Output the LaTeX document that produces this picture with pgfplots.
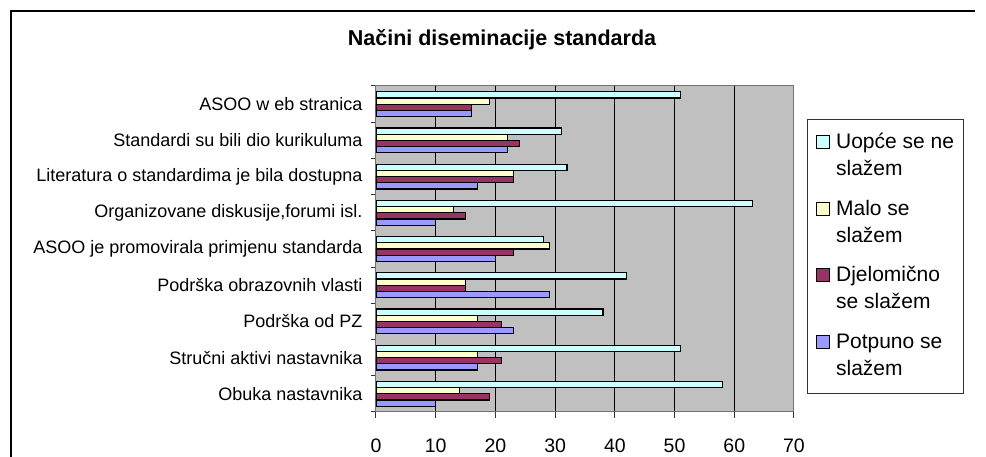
\documentclass[border=0pt]{standalone}
\usepackage{fontspec}
\setmainfont{Liberation Sans}
\usepackage{pgfplots}
\pgfplotsset{compat=1.18}
\definecolor{cUo}{HTML}{CCFFFF}
\definecolor{cMa}{HTML}{FFFFCC}
\definecolor{cDj}{HTML}{993366}
\definecolor{cPo}{HTML}{9999FF}
\definecolor{plotbg}{HTML}{C0C0C0}
\pgfplotsset{sqleg/.style={legend image code/.code={\draw[##1,line width=0.9pt] (0pt,0pt) rectangle (13pt,13pt);}}}
\begin{document}
\begin{tikzpicture}
\path[use as bounding box] (0pt,0pt) rectangle (986pt,457pt);
\draw[line width=1.6pt] (10.8pt,-20pt) -- (10.8pt,446.2pt) -- (975pt,446.2pt);
\node[anchor=base, font=\fontsize{21.5}{25}\selectfont\bfseries] at (502pt,411.3pt) {Načini diseminacije standarda};
\begin{axis}[
  at={(376pt,45pt)}, anchor=south west,
  scale only axis, width=418pt, height=326pt,
  xbar=0pt, bar width=6.2pt,
  xmin=0, xmax=70, ymin=-0.5, ymax=8.5,
  axis background/.style={fill=plotbg},
  axis line style={draw=black!55, line width=1pt},
  xtick={0,10,...,70},
  ytick={0,...,8},
  yticklabels={Obuka nastavnika, Stručni aktivi nastavnika, Podrška od PZ, Podrška obrazovnih vlasti, ASOO je promovirala primjenu standarda, {Organizovane diskusije,forumi isl.}, Literatura o standardima je bila dostupna, Standardi su bili dio kurikuluma, ASOO w eb stranica},
  minor ytick={-0.5,0.5,...,8.5},
  major y tick style={draw=none},
  minor y tick style={draw=black!80, line width=1pt},
  major x tick style={draw=black!80, line width=1pt},
  major tick length=6pt, minor tick length=5pt,
  tick align=outside, tick pos=left,
  xmajorgrids, major x grid style={draw=black, line width=1pt},
  yticklabel style={font=\fontsize{18}{22}\selectfont, xshift=-4pt},
  xticklabel style={font=\fontsize{19.5}{23}\selectfont, yshift=-17pt},
  /pgf/number format/assume math mode=true,
  every axis plot/.append style={draw=black, line width=1.2pt},
  reverse legend,
  legend style={at={(1.0304,0.8988)}, anchor=north west,
    draw=black!80, line width=1pt, fill=white,
    inner xsep=9pt, inner ysep=10pt, row sep=12.7pt, column sep=6pt,
    nodes={inner sep=0pt, text depth=},
    cells={anchor=base west},
    font=\fontsize{21}{27}\selectfont},
]
\addplot[fill=cPo, sqleg] coordinates {(10,0) (17,1) (23,2) (29,3) (20,4) (10,5) (17,6) (22,7) (16,8)};
\addlegendentry{\begin{tabular}[t]{@{}l@{}}Potpuno se\\slažem\end{tabular}}
\addplot[fill=cDj, sqleg] coordinates {(19,0) (21,1) (21,2) (15,3) (23,4) (15,5) (23,6) (24,7) (16,8)};
\addlegendentry{\begin{tabular}[t]{@{}l@{}}Djelomično\\se slažem\end{tabular}}
\addplot[fill=cMa, sqleg] coordinates {(14,0) (17,1) (17,2) (15,3) (29,4) (13,5) (23,6) (22,7) (19,8)};
\addlegendentry{\begin{tabular}[t]{@{}l@{}}Malo se\\slažem\end{tabular}}
\addplot[fill=cUo, sqleg] coordinates {(58,0) (51,1) (38,2) (42,3) (28,4) (63,5) (32,6) (31,7) (51,8)};
\addlegendentry{\begin{tabular}[t]{@{}l@{}}Uopće se ne\\slažem\end{tabular}}
\end{axis}
\end{tikzpicture}
\end{document}
